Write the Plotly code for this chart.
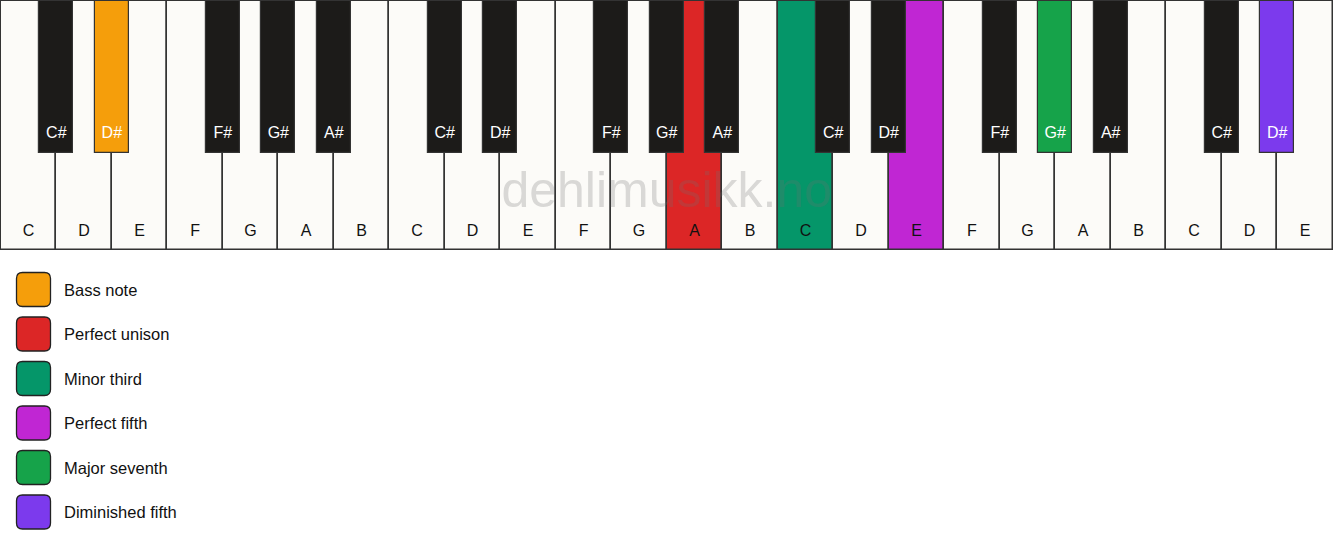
import plotly.graph_objects as go

# ---------------- data ----------------
white_names = ["C", "D", "E", "F", "G", "A", "B"] * 3 + ["C", "D", "E"]
sharp_after = ["C", "D", "F", "G", "A"]  # white keys followed by a black key
legend_labels = ["Bass note", "Perfect unison", "Minor third",
                 "Perfect fifth", "Major seventh", "Diminished fifth"]
legend_colors = ["#f59e0b", "#dc2626", "#059669", "#c026d3", "#16a34a", "#7c3aed"]
# highlighted key for each legend entry: (note name, octave number 1..4)
highlight_notes = ["D#", "A", "C", "E", "G#", "D#"]
highlight_octaves = [1, 2, 3, 3, 3, 4]
watermark = "dehlimusikk.no"

W, H = 1333, 550
WHITE = "#fcfbf8"
BLACK = "#1c1b19"
EDGE = "#333333"
FONT = "Liberation Sans, Arial, sans-serif"

hl = {(n, o): c for n, o, c in zip(highlight_notes, highlight_octaves, legend_colors)}

# white keys
wx, wcol, wlab = [], [], []
for i, n in enumerate(white_names):
    octv = i // 7 + 1
    wx.append(i + 0.5)
    wcol.append(hl.get((n, octv), WHITE))
    wlab.append(n)

# black keys
bx, bcol, blab = [], [], []
for i, n in enumerate(white_names):
    if n in sharp_after and i < len(white_names) - 1:
        octv = i // 7 + 1
        name = n + "#"
        bx.append(i + 1)
        bcol.append(hl.get((name, octv), BLACK))
        blab.append(name)

KB_PX = 250.0           # keyboard height in pixels
BLACK_FRAC = 153.0 / KB_PX
BLACK_W = 34.0 / (W / len(white_names))
NW = len(white_names)

fig = go.Figure()
fig.add_trace(go.Bar(
    x=wx, y=[1.0] * len(wx), base=0, width=1.0,
    marker=dict(color=wcol, line=dict(color=EDGE, width=1.5)),
    hoverinfo="skip", showlegend=False))
fig.add_trace(go.Bar(
    x=bx, y=[BLACK_FRAC] * len(bx), base=1 - BLACK_FRAC, width=BLACK_W,
    marker=dict(color=bcol, line=dict(color=EDGE, width=1.2)),
    hoverinfo="skip", showlegend=False))
fig.add_trace(go.Scatter(
    x=wx, y=[18 / KB_PX] * len(wx), mode="text", text=wlab,
    textfont=dict(family=FONT, size=16, color="#111111"),
    hoverinfo="skip", showlegend=False))
fig.add_trace(go.Scatter(
    x=bx, y=[1 - 134 / KB_PX] * len(bx), mode="text", text=blab,
    textfont=dict(family=FONT, size=16, color="#ffffff"),
    hoverinfo="skip", showlegend=False))
# watermark drawn on top of the keys
fig.add_trace(go.Scatter(
    x=[NW / 2], y=[1 - 194 / KB_PX], mode="text", text=[watermark],
    textfont=dict(family=FONT, size=50, color="rgba(110,110,110,0.25)"),
    hoverinfo="skip", showlegend=False))

# legend (rounded swatches + labels), positioned in pixels -> paper
def px(x):
    return x / W

def py(y):
    return 1 - y / H

shapes = []
annotations = []
for k, (lab, col) in enumerate(zip(legend_labels, legend_colors)):
    cy = 289.5 + k * 44.5
    x0, x1 = 16.5, 50.5
    y0, y1 = cy - 17, cy + 17
    r = 6
    path = (f"M {px(x0 + r)},{py(y0)} L {px(x1 - r)},{py(y0)} "
            f"Q {px(x1)},{py(y0)} {px(x1)},{py(y0 + r)} "
            f"L {px(x1)},{py(y1 - r)} Q {px(x1)},{py(y1)} {px(x1 - r)},{py(y1)} "
            f"L {px(x0 + r)},{py(y1)} Q {px(x0)},{py(y1)} {px(x0)},{py(y1 - r)} "
            f"L {px(x0)},{py(y0 + r)} Q {px(x0)},{py(y0)} {px(x0 + r)},{py(y0)} Z")
    shapes.append(dict(type="path", path=path, xref="paper", yref="paper",
                       fillcolor=col, line=dict(color="#222222", width=1.3)))
    annotations.append(dict(text=lab, x=px(62), y=py(cy), xref="paper", yref="paper",
                            xanchor="left", yanchor="middle", showarrow=False,
                            font=dict(family=FONT, size=16.5, color="#111111")))

top_pad = 1.0
fig.update_layout(
    width=W, height=H,
    margin=dict(l=0, r=0, t=0, b=0),
    paper_bgcolor="white", plot_bgcolor="white",
    barmode="overlay", bargap=0,
    showlegend=False,
    shapes=shapes, annotations=annotations,
    xaxis=dict(range=[-0.015, NW + 0.005], visible=False, fixedrange=True),
    yaxis=dict(range=[-2 / KB_PX, 1 + top_pad / KB_PX], domain=[1 - (KB_PX + 2) / H, 1],
               visible=False, fixedrange=True),
)

fig.write_html("out.html", config={"displayModeBar": False},
               post_script="document.body.style.margin='0';")
